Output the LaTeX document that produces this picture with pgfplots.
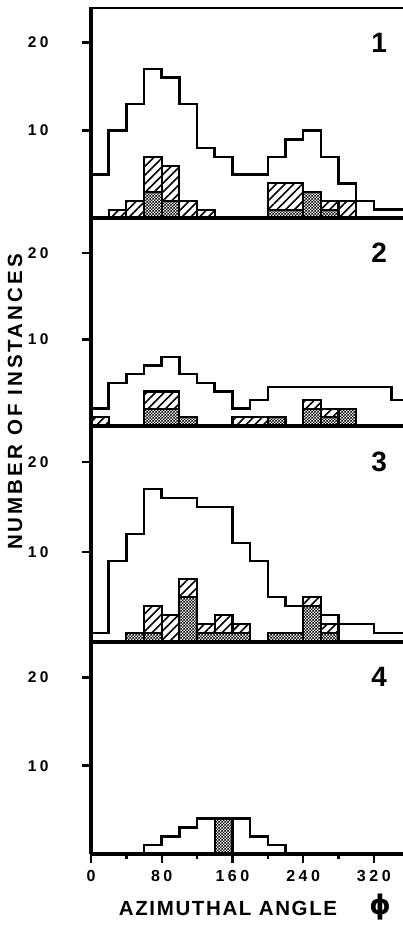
\documentclass[border=0pt]{standalone}
\usepackage{fontspec}
\setmainfont{Liberation Sans}
\newfontfamily\tickfont{Liberation Sans}[LetterSpace=22]
\newfontfamily\labfont{Liberation Sans}[LetterSpace=15]
\newfontfamily\xlabfont{Liberation Sans}[LetterSpace=8]
\newfontfamily\phifont{DejaVu Sans}
\usepackage{pgfplots}
\pgfplotsset{compat=1.18}
\usetikzlibrary{patterns,patterns.meta}

\tikzdeclarepattern{
  name=checker,
  type=uncolored,
  bounding box={(0pt,0pt) and (3.4pt,3.4pt)},
  tile size={(3.4pt,3.4pt)},
  code={
    \pgfpathrectangle{\pgfpointorigin}{\pgfpoint{1.7pt}{1.7pt}}
    \pgfpathrectangle{\pgfpoint{1.7pt}{1.7pt}}{\pgfpoint{1.7pt}{1.7pt}}
    \pgfusepath{fill}
  }
}

\pgfplotsset{
  panel/.style={
    scale only axis, width=312pt,
    xmin=0, xmax=353, ymin=0, ymax=24,
    axis x line*=bottom, axis y line*=left,
    axis line style={-, line width=4pt},
    axis on top,
    tick align=outside,
    ytick={10,20}, yticklabels={10,20},
    major tick length=9pt, minor tick length=5pt,
    every tick/.style={line width=2.4pt, black},
    yticklabel style={font=\tickfont\bfseries\fontsize{15.5}{15.5}\selectfont, anchor=east, xshift=-30pt},
    xtick=\empty,
  },
  open/.style={const plot, line width=2.5pt, black, no marks},
  hatch/.style={ybar interval, draw=black, line width=2.2pt, fill=white,
    postaction={pattern={Lines[angle=45,distance=6.2pt,line width=1.6pt]}}},
  cross/.style={ybar interval, draw=black, line width=2.2pt, fill=white,
    postaction={pattern=checker}},
}
\newcommand{\pnum}[1]{\node[font=\bfseries\fontsize{28}{28}\selectfont] at (axis cs:326,20) {#1};}

\begin{document}
\begin{tikzpicture}
\useasboundingbox (0pt,0pt) rectangle (403pt,-925pt);

% Panel 1
\begin{axis}[panel, height=211.2pt, at={(91pt,-7.3pt)}, anchor=north west]
\addplot[open] coordinates {(0,5) (20,10) (40,13) (60,17) (80,16) (100,13) (120,8) (140,7) (160,5) (200,7) (220,9) (240,10) (260,7) (280,4) (300,2) (320,1) (360,1)};
\addplot[hatch] coordinates {(20,1) (40,2) (60,7) (80,6) (100,2) (120,1) (140,0) (200,4) (240,3) (260,2) (280,2) (300,0)};
\addplot[cross] coordinates {(60,3) (80,2) (100,0) (200,1) (240,3) (260,1) (280,0)};
\pnum{1}
\draw[line width=4pt] (rel axis cs:0,1) -- (rel axis cs:1,1);
\end{axis}

% Panel 2
\begin{axis}[panel, height=207.5pt, at={(91pt,-218.5pt)}, anchor=north west]
\addplot[open] coordinates {(0,2) (20,5) (40,6) (60,7) (80,8) (100,6) (120,5) (140,4) (160,2) (180,3) (200,4.5) (340,3) (360,3)};
\addplot[hatch] coordinates {(0,1) (20,0) (60,4) (100,1) (120,0) (160,1) (200,1) (220,0) (240,3) (260,2) (300,0)};
\addplot[cross] coordinates {(60,2) (100,1) (120,0) (200,1) (220,0) (240,2) (260,1) (280,2) (300,0)};
\pnum{2}
\end{axis}

% Panel 3
\begin{axis}[panel, height=216pt, at={(91pt,-426pt)}, anchor=north west]
\addplot[open] coordinates {(0,1) (20,9) (40,12) (60,17) (80,16) (120,15) (160,11) (180,9) (200,5) (220,4) (240,5) (260,3) (280,2) (320,1) (360,1)};
\addplot[hatch] coordinates {(40,1) (60,4) (80,3) (100,7) (120,2) (140,3) (160,2) (180,0) (200,1) (240,5) (260,2) (280,0)};
\addplot[cross] coordinates {(40,1) (60,1) (80,0) (100,5) (120,1) (180,0) (200,1) (240,4) (260,1) (280,0)};
\pnum{3}
\end{axis}

% Panel 4
\begin{axis}[panel, height=212pt, at={(91pt,-642pt)}, anchor=north west,
  xtick={0,80,160,240,320}, xticklabels={0,80,160,240,320},
  minor xtick={40,120,200,280},
  xticklabel style={font=\tickfont\bfseries\fontsize{16}{16}\selectfont, yshift=-4pt}]
\addplot[open] coordinates {(60,0) (60,1) (80,2) (100,3) (120,4) (180,2) (200,1) (220,0)};
\addplot[cross] coordinates {(140,4) (160,0)};
\pnum{4}
\end{axis}

\node[rotate=90, font=\labfont\bfseries\fontsize{20.5}{20.5}\selectfont] at (15pt,-402pt) {NUMBER OF INSTANCES};
\node[font=\xlabfont\bfseries\fontsize{20.5}{20.5}\selectfont, anchor=base] at (228pt,-915pt) {AZIMUTHAL ANGLE};
\node[font=\phifont\bfseries\fontsize{27}{27}\selectfont, anchor=base] at (380pt,-914pt) {ϕ};
\end{tikzpicture}
\end{document}
